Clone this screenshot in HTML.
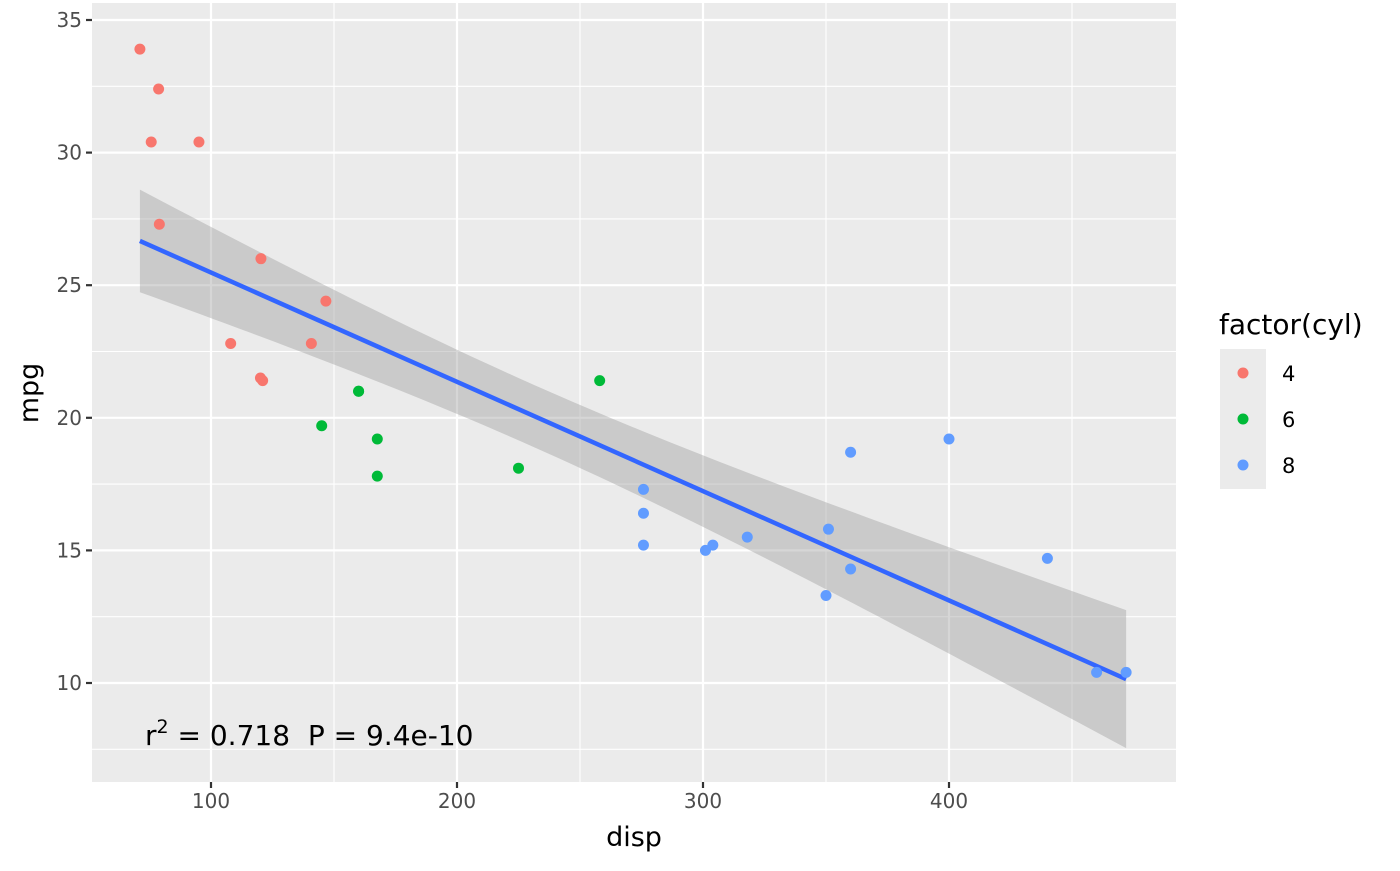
<!DOCTYPE html>
<html><head><meta charset="utf-8"><style>
body{margin:0;background:#fff;font-family:"Liberation Sans","DejaVu Sans",sans-serif;}
svg text{font-family:"DejaVu Sans","Liberation Sans",sans-serif;white-space:pre;}
</style></head><body>
<svg id="chart" width="1400" height="866" xmlns="http://www.w3.org/2000/svg"></svg>
<script>
const disp=[160,160,108,258,360,225,360,146.7,140.8,167.6,167.6,275.8,275.8,275.8,472,460,440,78.7,75.7,71.1,120.1,318,304,350,400,79,120.3,95.1,351,145,301,121];
const mpg=[21,21,22.8,21.4,18.7,18.1,14.3,24.4,22.8,19.2,17.8,16.4,17.3,15.2,10.4,10.4,14.7,32.4,30.4,33.9,21.5,15.5,15.2,13.3,19.2,27.3,26,30.4,15.8,19.7,15,21.4];
const cyl=[6,6,4,6,8,6,8,4,4,6,6,8,8,8,8,8,8,4,4,4,4,8,8,8,8,4,4,4,8,6,8,4];
const xTicks=[100,200,300,400];
const yTicks=[10,15,20,25,30,35];
const groups=["4","6","8"];
const colors={"4":"#F8766D","6":"#00BA38","8":"#619CFF"};
const NS="http://www.w3.org/2000/svg";
const svg=document.getElementById('chart');
const X=v=>211+(v-100)*2.46;
const Y=v=>683-(v-10)*26.52;
const P={l:92,r:1176,t:3,b:782};
function el(t,a,p){const e=document.createElementNS(NS,t);for(const k in a)e.setAttribute(k,a[k]);(p||svg).appendChild(e);return e;}
const bg=el('rect',{x:P.l,y:P.t,width:P.r-P.l,height:P.b-P.t,fill:'#EBEBEB'});


for(let v=50;v<=500;v+=100){const x=X(v);if(x>P.l&&x<P.r){const g=el('line',{x1:x,x2:x,y1:P.t,y2:P.b,stroke:'#fff','stroke-width':1.1});}}
for(let v=7.5;v<=37.5;v+=5){const y=Y(v);if(y>P.t&&y<P.b){const g=el('line',{x1:P.l,x2:P.r,y1:y,y2:y,stroke:'#fff','stroke-width':1.1});}}
xTicks.forEach(v=>{const x=X(v);const g=el('line',{x1:x,x2:x,y1:P.t,y2:P.b,stroke:'#fff','stroke-width':2.2});
const t=el('line',{x1:x,x2:x,y1:P.b,y2:P.b+6,stroke:'#333','stroke-width':2.2});
const l=el('text',{x:x,y:P.b+26,'text-anchor':'middle','font-size':20,fill:'#4D4D4D'});l.textContent=v;});
yTicks.forEach(v=>{const y=Y(v);const g=el('line',{x1:P.l,x2:P.r,y1:y,y2:y,stroke:'#fff','stroke-width':2.2});
const t=el('line',{x1:P.l-6,x2:P.l,y1:y,y2:y,stroke:'#333','stroke-width':2.2});
const l=el('text',{x:P.l-10,y:y+7,'text-anchor':'end','font-size':20,fill:'#4D4D4D'});l.textContent=v;});
const n=disp.length,mx=disp.reduce((a,b)=>a+b)/n,my=mpg.reduce((a,b)=>a+b)/n;
let sxx=0,sxy=0;for(let i=0;i<n;i++){sxx+=(disp[i]-mx)**2;sxy+=(disp[i]-mx)*(mpg[i]-my);}
const b=sxy/sxx,a=my-b*mx;let sse=0;for(let i=0;i<n;i++)sse+=(mpg[i]-a-b*disp[i])**2;
const s=Math.sqrt(sse/(n-2)),tq=2.042;
const xmin=Math.min(...disp),xmax=Math.max(...disp);
let up=[],lo=[];
for(let k=0;k<=80;k++){const x=xmin+(xmax-xmin)*k/80;const f=a+b*x;const se=s*Math.sqrt(1/n+(x-mx)**2/sxx);up.push(X(x)+','+Y(f+tq*se));lo.unshift(X(x)+','+Y(f-tq*se));}
const rib=el('polygon',{points:up.concat(lo).join(' '),fill:'#999',opacity:0.4});


const ln=el('line',{x1:X(xmin),y1:Y(a+b*xmin),x2:X(xmax),y2:Y(a+b*xmax),stroke:'#3366FF','stroke-width':4.5});


for(let i=0;i<n;i++){const c=el('circle',{cx:X(disp[i]),cy:Y(mpg[i]),r:5.5,fill:colors[cyl[i]]});

}
</script>
<svg style="position:absolute;left:0;top:0" width="1400" height="866" xmlns="http://www.w3.org/2000/svg">
<text x="145" y="745" font-size="28" fill="#000">r<tspan dy="-12" font-size="19">2</tspan><tspan dy="12"> = 0.718  P = 9.4e-10</tspan></text>
<text x="634" y="846" font-size="27" text-anchor="middle" fill="#000">disp</text>
<text transform="translate(38,393) rotate(-90)" font-size="27" text-anchor="middle" fill="#000">mpg</text>
<g>
<text x="1219" y="334" font-size="28" fill="#000">factor(cyl)</text>
<rect x="1220" y="349" width="46" height="140" fill="#EBEBEB"/>
<circle cx="1243" cy="373" r="5.5" fill="#F8766D"/>
<circle cx="1243" cy="419" r="5.5" fill="#00BA38"/>
<circle cx="1243" cy="465" r="5.5" fill="#619CFF"/>
<text x="1282" y="381" font-size="21">4</text>
<text x="1282" y="427" font-size="21">6</text>
<text x="1282" y="473" font-size="21">8</text>
</g>
</svg>
</body></html>
